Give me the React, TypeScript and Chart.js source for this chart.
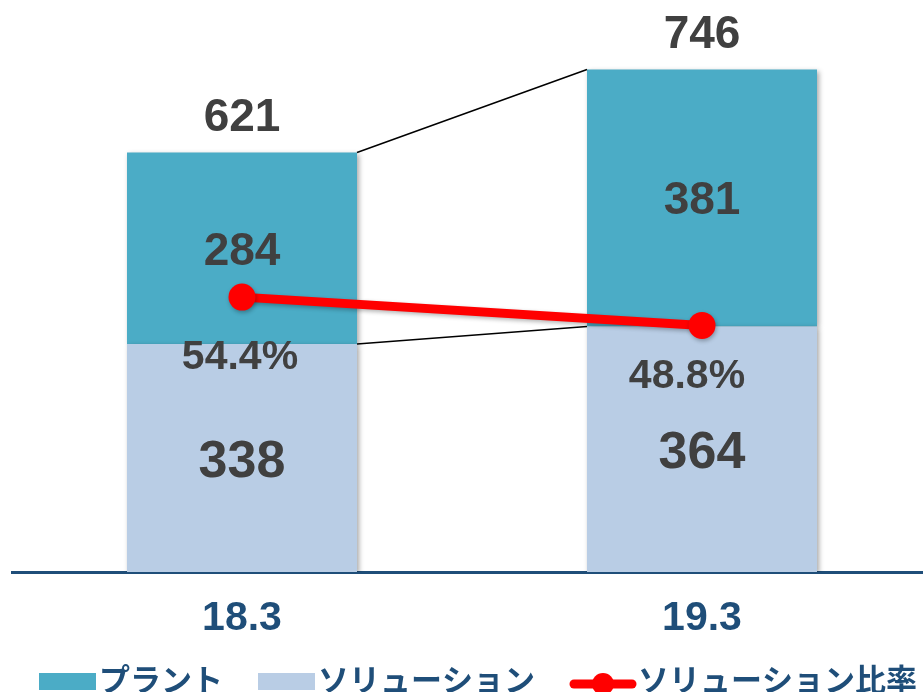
import React, { useEffect, useRef } from 'react';
import { Chart, registerables } from 'chart.js';

Chart.register(...registerables);

// ---- data ----
const categories = ['18.3', '19.3'];
const plantValues = [284, 381];
const solutionValues = [338, 364];
const totalValues = [621, 746];
const solutionRatio = [54.4, 48.8];
const seriesNames = ['プラント', 'ソリューション', 'ソリューション比率'];

// ---- styles ----
const PLANT_COLOR = '#4BACC6';
const SOLUTION_COLOR = '#B9CDE5';
const RATIO_COLOR = '#FF0000';
const AXIS_COLOR = '#1F4E79';
const LABEL_COLOR = '#404040';
const NUM_FONT = '"Liberation Sans", Arial, sans-serif';
const JP_FONT = '"Noto Sans CJK JP", "Noto Sans", sans-serif';

// label offsets relative to the ratio points (style only)
const pctOffsets = [
  { dx: -2, dy: 57 },
  { dx: -15, dy: 48 },
];

const shadowPlugin = {
  id: 'barShadow',
  beforeDatasetDraw(chart: any, args: any) {
    const ctx = chart.ctx;
    ctx.save();
    if (args.meta.type === 'bar') {
      ctx.shadowColor = 'rgba(0,0,0,0.35)';
      ctx.shadowBlur = 5;
      ctx.shadowOffsetX = 2;
      ctx.shadowOffsetY = 2;
    } else {
      // connector lines drawn under the ratio line
      const sol = chart.getDatasetMeta(1).data;
      const pl = chart.getDatasetMeta(2).data;
      if (sol.length === 2 && pl.length === 2) {
        ctx.strokeStyle = '#000000';
        ctx.lineWidth = 1.5;
        ctx.beginPath();
        ctx.moveTo(pl[0].x + pl[0].width / 2, pl[0].y);
        ctx.lineTo(pl[1].x - pl[1].width / 2, pl[1].y);
        ctx.moveTo(sol[0].x + sol[0].width / 2, sol[0].y);
        ctx.lineTo(sol[1].x - sol[1].width / 2, sol[1].y);
        ctx.stroke();
      }
      ctx.shadowColor = 'rgba(0,0,0,0.3)';
      ctx.shadowBlur = 4;
      ctx.shadowOffsetX = 1;
      ctx.shadowOffsetY = 2;
    }
  },
  afterDatasetDraw(chart: any) {
    chart.ctx.restore();
  },
};

const labelPlugin = {
  id: 'valueLabels',
  afterDatasetsDraw(chart: any) {
    const ctx = chart.ctx;
    const lineMeta = chart.getDatasetMeta(0);
    const solMeta = chart.getDatasetMeta(1);
    const plantMeta = chart.getDatasetMeta(2);
    ctx.save();
    ctx.fillStyle = LABEL_COLOR;
    ctx.textAlign = 'center';
    ctx.textBaseline = 'alphabetic';
    const draw = (text: string, x: number, cy: number, size: number) => {
      ctx.font = `bold ${size}px ${NUM_FONT}`;
      ctx.fillText(text, x, cy + size * 0.358);
    };
    plantMeta.data.forEach((el: any, i: number) => {
      draw(String(plantValues[i]), el.x, (el.y + el.base) / 2, 46);
      draw(String(totalValues[i]), el.x, el.y - 38, 46);
    });
    solMeta.data.forEach((el: any, i: number) => {
      draw(String(solutionValues[i]), el.x, (el.y + el.base) / 2, 52);
    });
    lineMeta.data.forEach((pt: any, i: number) => {
      const o = pctOffsets[i];
      draw(solutionRatio[i].toFixed(1) + '%', pt.x + o.dx, pt.y + o.dy, 41);
    });
    ctx.restore();
  },
};

const legendPlugin = {
  id: 'customLegend',
  afterDraw(chart: any) {
    const ctx = chart.ctx;
    ctx.save();
    ctx.font = `bold 31px ${JP_FONT}`;
    ctx.textBaseline = 'middle';
    ctx.textAlign = 'left';
    const cy = 679;
    let x = 39;
    const items = [
      { kind: 'rect', color: PLANT_COLOR, label: seriesNames[0] },
      { kind: 'rect', color: SOLUTION_COLOR, label: seriesNames[1] },
      { kind: 'line', color: RATIO_COLOR, label: seriesNames[2] },
    ];
    items.forEach((it) => {
      if (it.kind === 'rect') {
        ctx.fillStyle = it.color;
        ctx.fillRect(x, 673, 57, 17);
        x += 60;
      } else {
        ctx.strokeStyle = it.color;
        ctx.lineWidth = 9;
        ctx.lineCap = 'round';
        ctx.beginPath();
        ctx.moveTo(x + 4, 684);
        ctx.lineTo(x + 62, 684);
        ctx.stroke();
        ctx.fillStyle = it.color;
        ctx.beginPath();
        ctx.arc(x + 33, 684, 11, 0, Math.PI * 2);
        ctx.fill();
        x += 68;
      }
      ctx.fillStyle = AXIS_COLOR;
      ctx.fillText(it.label, x, cy);
      x += ctx.measureText(it.label).width + 35;
    });
    ctx.restore();
  },
};

export default function App() {
  const canvasRef = useRef<HTMLCanvasElement | null>(null);

  useEffect(() => {
    const canvas = canvasRef.current;
    if (!canvas) return;
    const chart = new Chart(canvas, {
      type: 'bar',
      data: {
        labels: categories,
        datasets: [
          {
            type: 'line',
            label: seriesNames[2],
            data: solutionRatio,
            yAxisID: 'y2',
            borderColor: RATIO_COLOR,
            backgroundColor: RATIO_COLOR,
            borderWidth: 9,
            pointRadius: 13.5,
            pointHoverRadius: 13.5,
            pointBorderWidth: 0,
            pointBackgroundColor: RATIO_COLOR,
            clip: false,
            order: 0,
          } as any,
          {
            type: 'bar',
            label: seriesNames[1],
            data: solutionValues,
            backgroundColor: SOLUTION_COLOR,
            stack: 's',
            yAxisID: 'y',
            order: 1,
          },
          {
            type: 'bar',
            label: seriesNames[0],
            data: plantValues,
            backgroundColor: PLANT_COLOR,
            stack: 's',
            yAxisID: 'y',
            order: 1,
          },
        ],
      },
      options: {
        responsive: false,
        animation: false,
        layout: { autoPadding: false, padding: { left: 12, right: 8, top: 0, bottom: 0 } },
        datasets: { bar: { barPercentage: 0.5, categoryPercentage: 1 } } as any,
        plugins: {
          legend: { display: false },
          tooltip: { enabled: false },
        },
        scales: {
          x: {
            stacked: true,
            offset: true,
            grid: { display: false, drawTicks: false },
            border: { display: true, color: AXIS_COLOR, width: 3 },
            ticks: {
              color: AXIS_COLOR,
              font: { family: NUM_FONT, size: 41, weight: 'bold' },
              padding: 22,
            },
            afterFit: (s: any) => {
              s.height = 120;
            },
          },
          y: { stacked: true, min: 0, max: 848, display: false },
          y2: { min: 0, max: 113.2, display: false, position: 'right' },
        },
      } as any,
      plugins: [shadowPlugin, labelPlugin, legendPlugin],
    });
    return () => chart.destroy();
  }, []);

  return (
    <div
      style={{
        position: 'absolute',
        left: 0,
        top: 0,
        width: 923,
        height: 692,
        overflow: 'hidden',
        background: '#ffffff',
      }}
    >
      <canvas ref={canvasRef} width={940} height={692} style={{ display: 'block' }} />
    </div>
  );
}
